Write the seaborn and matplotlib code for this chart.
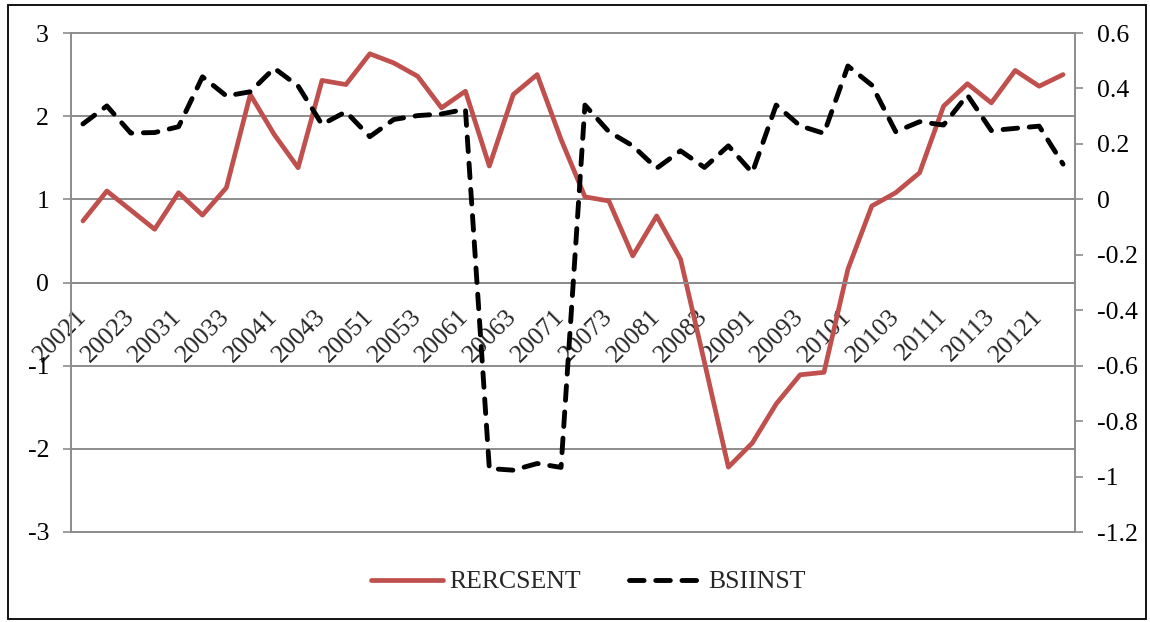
import matplotlib
matplotlib.use("Agg")
import numpy as np
import pandas as pd
import seaborn as sns
import matplotlib.pyplot as plt
from matplotlib.patches import Rectangle
from matplotlib.ticker import MultipleLocator, FuncFormatter

# quarterly categories 2002Q1 .. 2012Q2
quarters = ["20021", "20022", "20023", "20024", "20031", "20032", "20033", "20034",
            "20041", "20042", "20043", "20044", "20051", "20052", "20053", "20054",
            "20061", "20062", "20063", "20064", "20071", "20072", "20073", "20074",
            "20081", "20082", "20083", "20084", "20091", "20092", "20093", "20094",
            "20101", "20102", "20103", "20104", "20111", "20112", "20113", "20114",
            "20121", "20122"]

# left axis series
rercsent = [0.74, 1.10, 0.87, 0.64, 1.08, 0.81, 1.14, 2.26, 1.78, 1.38,
            2.43, 2.38, 2.75, 2.64, 2.48, 2.10, 2.30, 1.40, 2.26, 2.50,
            1.72, 1.03, 0.98, 0.32, 0.80, 0.28, -0.96, -2.22, -1.93, -1.46,
            -1.11, -1.08, 0.16, 0.92, 1.08, 1.32, 2.12, 2.39, 2.16, 2.55,
            2.36, 2.50]

# right axis series
bsiinst = [0.272, 0.337, 0.239, 0.241, 0.262, 0.442, 0.373, 0.388, 0.473, 0.409,
           0.270, 0.316, 0.226, 0.288, 0.302, 0.308, 0.325, -0.971, -0.977, -0.953,
           -0.967, 0.340, 0.244, 0.193, 0.112, 0.175, 0.115, 0.193, 0.096, 0.340,
           0.265, 0.238, 0.481, 0.412, 0.244, 0.280, 0.268, 0.376, 0.248, 0.256,
           0.264, 0.127]

df = pd.DataFrame({"pos": np.arange(len(quarters)), "quarter": quarters,
                   "RERCSENT": rercsent, "BSIINST": bsiinst})

sns.set_style("white")
plt.rcParams["font.family"] = ["Liberation Serif", "DejaVu Serif"]
plt.rcParams["axes.unicode_minus"] = False

GRID = "#8C8C8C"
RED = "#C0504D"
FS = 18.5

W, H = 1150, 622
fig = plt.figure(figsize=(W / 100, H / 100), dpi=100)
ax = fig.add_axes([71 / W, 1 - 532 / H, (1075 - 71) / W, (532 - 33) / H])
ax2 = ax.twinx()

sns.lineplot(data=df, x="pos", y="RERCSENT", ax=ax, color=RED, lw=3.4,
             legend=False)
sns.lineplot(data=df, x="pos", y="BSIINST", ax=ax2, color="black", lw=3.5,
             legend=False)
bl = ax2.lines[0]
bl.set_linestyle((0, (3.0, 2.4)))
bl.set_dash_capstyle("round")
ax.lines[0].set_solid_capstyle("round")

ax.set_xlim(-0.5, len(quarters) - 0.5)
ax.set_ylim(-3, 3)
ax2.set_ylim(-1.2, 0.6)
ax.set_xlabel("")
ax.set_ylabel("")
ax2.set_ylabel("")

# y axes
ax.yaxis.set_major_locator(MultipleLocator(1))
ax2.yaxis.set_major_locator(MultipleLocator(0.2))
ax2.yaxis.set_major_formatter(FuncFormatter(
    lambda v, p: "0" if abs(v) < 1e-9 else f"{round(v, 1):g}"))
for a in (ax, ax2):
    a.tick_params(axis="y", direction="out", length=5.8, width=1.2,
                  color=GRID, pad=10, labelsize=FS, labelcolor="black")

ax.grid(axis="y", color=GRID, lw=1.4)
ax.grid(axis="x", visible=False)
ax2.grid(False)
for gl in ax.get_ygridlines():
    gl.set_clip_on(False)

# category axis sits on zero
ax.spines["bottom"].set_position(("data", 0))
ax.set_xticks(np.arange(-0.5, len(quarters), 1))
ax.set_xticklabels([])
ax.tick_params(axis="x", which="major", direction="out", length=3.6,
               width=1.2, color=GRID)
ax.set_xticks(df["pos"][::2], labels=df["quarter"][::2], minor=True)
ax.tick_params(axis="x", which="minor", length=0, pad=22, labelsize=FS)
for t in ax.get_xticklabels(minor=True):
    t.set_rotation(45)
    t.set_ha("right")
    t.set_va("center")
    t.set_rotation_mode("anchor")

for name in ["top", "right"]:
    ax.spines[name].set_visible(False)
for name in ["top", "bottom", "left"]:
    ax2.spines[name].set_visible(False)
for sp in (ax.spines["left"], ax.spines["bottom"], ax2.spines["right"]):
    sp.set_color(GRID)
    sp.set_linewidth(1.4)
ax2.patch.set_visible(False)

fig.legend([ax.lines[0], bl], ["RERCSENT", "BSIINST"], loc="center",
           bbox_to_anchor=(588 / W, 1 - 582 / H), ncol=2, frameon=False,
           fontsize=FS, handlelength=2.8, handletextpad=0.25,
           columnspacing=1.9)

fig.patches.append(Rectangle((8 / W, 1 - 619 / H), (1146 - 8) / W, (619 - 5) / H,
                             transform=fig.transFigure, fill=False,
                             ec="black", lw=1.3))

fig.savefig("out.png", dpi=100)
